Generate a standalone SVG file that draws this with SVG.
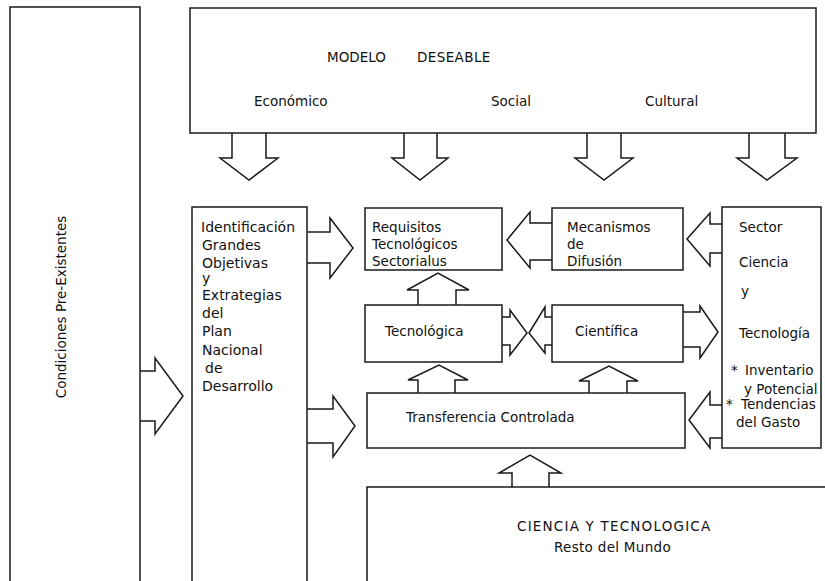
<svg xmlns="http://www.w3.org/2000/svg" width="825" height="581" viewBox="0 0 825 581">
<style>
.box{fill:none;stroke:#1a1a1a;stroke-width:1.5}
.arr{fill:none;stroke:#1a1a1a;stroke-width:1.5;stroke-linejoin:miter}
text{font-family:"DejaVu Sans","Liberation Sans",sans-serif;fill:#111;font-size:13.5px}
.id{font-size:14px}
</style>
<rect width="825" height="581" fill="#fff"/>
<g id="condiciones">
<rect class="box" x="10" y="7" width="130" height="580"/>
<text font-size="13" transform="translate(66,307) rotate(-90)" text-anchor="middle">Condiciones Pre-Existentes</text>
</g>
<g id="modelo">
<rect class="box" x="190" y="8" width="626" height="125"/>
<text x="327" y="62" font-size="14.5">MODELO</text>
<text x="417" y="62" font-size="14.5" letter-spacing="0.4">DESEABLE</text>
<text x="254" y="106">Económico</text>
<text x="491" y="106">Social</text>
<text x="645" y="106">Cultural</text>
</g>
<g id="identificacion">
<rect class="box" x="192" y="207" width="115" height="380"/>
<text class="id" x="201" y="232">Identificación</text>
<text class="id" x="202" y="250">Grandes</text>
<text class="id" x="202" y="268">Objetivas</text>
<text class="id" x="202" y="283">y</text>
<text class="id" x="202" y="300">Extrategias</text>
<text class="id" x="202" y="318">del</text>
<text class="id" x="202" y="336">Plan</text>
<text class="id" x="202" y="355">Nacional</text>
<text class="id" x="205" y="373">de</text>
<text class="id" x="202" y="391">Desarrollo</text>
</g>
<g id="requisitos">
<rect class="box" x="365" y="208" width="137" height="62"/>
<text x="372" y="232">Requisitos</text>
<text x="372" y="249">Tecnológicos</text>
<text x="372" y="266">Sectorialus</text>
</g>
<g id="mecanismos">
<rect class="box" x="552" y="208" width="131" height="62"/>
<text x="567" y="232" font-size="13">Mecanismos</text>
<text x="567" y="249" font-size="13">de</text>
<text x="567" y="266" font-size="13">Difusión</text>
</g>
<g id="sector">
<rect class="box" x="722" y="207" width="99" height="241"/>
<text x="739" y="232">Sector</text>
<text x="739" y="267">Ciencia</text>
<text x="741" y="296">y</text>
<text x="739" y="338" font-size="14">Tecnología</text>
<text x="731" y="375">*</text>
<text x="745" y="375" font-size="13">Inventario</text>
<text x="744" y="394">y Potencial</text>
<text x="726" y="409">*</text>
<text x="741" y="409">Tendencias</text>
<text x="736" y="427">del Gasto</text>
</g>
<g id="tecnologica">
<rect class="box" x="365" y="305" width="137" height="57"/>
<text x="385" y="336" font-size="14">Tecnológica</text>
</g>
<g id="cientifica">
<rect class="box" x="552" y="305" width="131" height="57"/>
<text x="575" y="336" font-size="14">Científica</text>
</g>
<g id="transferencia">
<rect class="box" x="367" y="393" width="318" height="55"/>
<text x="406" y="422">Transferencia Controlada</text>
</g>
<g id="ciencia-mundo">
<rect class="box" x="367" y="487" width="465" height="100"/>
<text x="517" y="531" font-size="15" letter-spacing="1.2">CIENCIA Y TECNOLOGICA</text>
<text x="554" y="552" font-size="14" letter-spacing="0.3">Resto del Mundo</text>
</g>
<g id="connectors">
<polyline class="arr" points="140,371 155,371 155,358 183,396 155,434 155,421 140,421"/>
<polyline class="arr" points="232,133 232,158 220,158 249,180 278,158 266,158 266,133"/>
<polyline class="arr" points="404,133 404,158 392,158 420,180 448,158 437,158 437,133"/>
<polyline class="arr" points="587,133 587,158 575,158 604,180 633,158 621,158 621,133"/>
<polyline class="arr" points="749,133 749,158 737,158 767,180 797,158 785,158 785,133"/>
<polyline class="arr" points="307,232 330,232 330,218 353,248 330,278 330,263 307,263"/>
<polyline class="arr" points="307,409 333,409 333,396 355,426 333,457 333,443 307,443"/>
<polyline class="arr" points="552,223 530,223 530,212 507,240 530,268 530,260 552,260"/>
<polyline class="arr" points="722,224 710,224 710,213 687,239 710,266 710,253 722,253"/>
<polyline class="arr" points="418,305 418,290 407,290 438,273 469,290 456,290 456,305"/>
<polyline class="arr" points="418,393 418,380 408,380 439,365 468,380 455,380 455,393"/>
<polyline class="arr" points="502,317 510,317 510,310 527,333 510,355 510,345 502,345"/>
<polyline class="arr" points="552,317 545,317 545,307 529,333 545,353 545,345 552,345"/>
<polyline class="arr" points="683,312 700,312 700,306 718,332 700,358 700,347 683,347"/>
<polyline class="arr" points="589,393 589,381 579,381 609,366 638,381 627,381 627,393"/>
<polyline class="arr" points="722,405 710,405 710,392 689,420 710,448 710,438 722,438"/>
<polyline class="arr" points="512,487 512,473 499,473 530,455 561,473 549,473 549,487"/>
</g>
</svg>
